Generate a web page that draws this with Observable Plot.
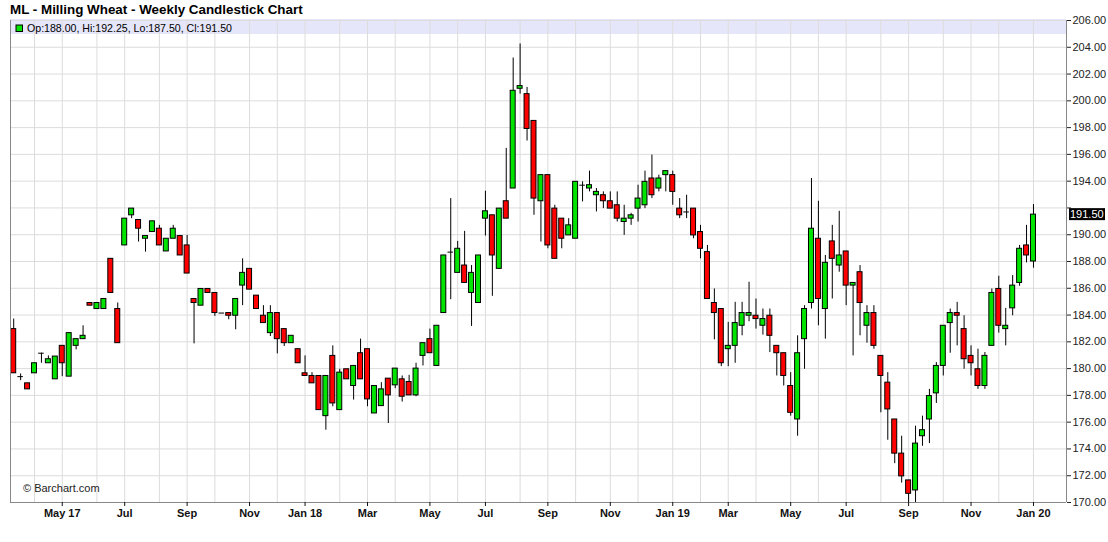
<!DOCTYPE html>
<html><head><meta charset="utf-8">
<script src="https://cdn.jsdelivr.net/npm/d3@7"></script>
<script src="https://cdn.jsdelivr.net/npm/@observablehq/plot@0.6"></script>
<style>
body{margin:0;background:#fff;font-family:Arial,"Liberation Sans",sans-serif}
#chart{position:relative;width:1108px;height:542px}
</style>
</head><body><div id="chart"></div>
<script>
// Weekly bars (week starting Monday), first bar week of 2017-03-13
const firstWeek = "2017-03-13";
const opens = [182.95,179.40,178.90,179.65,181.15,180.40,179.20,181.70,179.40,181.70,182.20,184.90,184.45,184.45,188.20,184.45,189.20,191.45,191.10,189.70,
190.20,190.45,188.75,189.70,189.90,189.20,185.20,184.70,185.95,185.65,184.15,184.15,183.95,186.20,187.45,185.45,183.95,182.65,184.15,182.95,
181.90,181.45,179.65,179.45,179.45,176.45,180.95,176.90,179.95,178.70,181.15,181.45,176.65,177.20,179.25,178.75,179.20,179.00,178.00,180.95,
182.20,180.20,184.15,188.70,187.15,187.70,185.65,184.90,191.20,191.45,187.45,192.50,193.45,200.90,200.50,198.50,192.50,194.45,191.95,191.20,
189.95,189.70,193.70,193.45,192.95,192.95,192.50,192.20,190.95,191.20,191.95,192.20,194.20,193.45,194.45,194.45,191.95,191.70,191.95,190.20,
188.70,184.90,184.45,181.45,181.70,183.20,183.95,183.95,183.20,183.95,181.70,181.15,178.70,176.20,182.20,184.90,189.70,184.45,189.50,187.70,
188.75,186.20,187.20,183.20,184.15,180.95,178.95,176.20,173.65,171.65,170.90,174.95,176.20,178.15,180.20,183.40,184.15,182.95,180.95,179.95,
178.70,181.70,185.95,182.95,184.50,186.40,189.20,188.00];
const highs = [183.70,179.60,178.90,180.40,181.15,180.95,180.90,181.70,182.65,182.20,183.20,184.90,184.90,185.20,188.20,184.90,191.20,191.95,191.10,189.90,
191.00,190.70,189.70,190.70,189.90,189.95,185.20,185.95,185.95,185.65,184.15,184.15,185.20,188.20,187.45,185.45,184.70,184.70,184.15,182.95,
182.45,181.45,180.95,179.70,179.45,179.45,181.70,179.95,179.95,180.20,182.20,181.45,178.70,178.95,179.25,180.00,179.45,179.50,180.40,181.90,
182.95,183.20,188.45,192.70,189.50,190.25,187.70,188.45,193.25,191.45,191.95,196.45,203.20,204.25,201.00,198.50,194.45,194.45,192.20,191.20,
191.20,193.95,193.95,194.75,193.45,193.20,193.20,193.20,192.20,191.60,193.70,194.75,195.95,194.45,194.75,194.75,192.70,192.95,191.95,190.70,
189.20,185.95,184.45,183.45,184.95,184.95,186.45,185.20,184.45,184.45,181.70,181.15,179.70,182.45,184.70,194.20,192.50,188.45,190.70,191.75,
188.75,186.40,187.70,184.70,184.70,180.95,179.70,176.20,174.95,171.65,175.70,176.45,178.45,180.45,183.20,184.45,184.95,183.95,181.70,181.45,
181.20,185.95,186.90,184.50,186.95,189.20,190.70,192.25];
const lows = [179.65,179.10,178.45,179.65,180.40,180.40,179.20,179.40,179.40,181.40,182.20,184.70,184.45,184.45,185.65,181.90,189.20,191.20,189.45,188.70,
190.20,189.20,188.75,189.70,188.45,187.10,181.85,184.70,185.65,183.90,184.15,183.65,182.90,184.70,185.90,184.45,183.40,182.40,181.10,181.65,
181.90,180.40,179.45,178.90,176.90,175.40,177.15,176.90,179.20,177.65,179.20,177.15,176.65,177.20,175.90,178.50,177.50,178.00,177.90,180.20,
181.15,180.20,184.15,185.15,187.15,186.40,183.15,184.90,189.90,185.40,187.45,191.20,193.45,200.50,197.00,191.45,189.45,188.95,188.20,188.95,
189.95,189.70,192.45,193.20,191.70,191.95,191.95,190.95,189.95,190.70,190.95,191.95,192.70,193.20,193.20,192.20,191.20,191.20,189.70,188.20,
185.20,182.15,180.15,180.15,180.40,182.45,183.50,182.95,182.50,181.20,179.45,178.70,176.45,174.95,179.95,184.45,183.20,182.20,185.20,187.20,
184.70,180.95,182.45,181.90,181.45,176.70,174.65,172.90,171.45,170.00,170.00,174.20,174.40,177.40,179.45,181.15,181.70,179.95,179.45,178.45,
178.45,181.70,182.65,181.70,183.95,186.15,187.90,187.50];
const closes = [179.65,179.40,178.45,180.40,181.15,180.70,180.90,180.40,182.65,182.20,182.45,184.70,184.90,185.20,185.65,181.90,191.20,191.95,190.45,189.90,
191.00,189.20,189.70,190.45,188.45,187.10,184.90,185.95,185.65,184.15,184.15,183.95,185.20,187.15,185.90,184.45,183.40,184.15,182.20,181.90,
182.45,180.40,179.45,178.90,176.90,179.45,177.40,179.70,179.20,180.20,179.20,177.70,178.70,178.45,178.00,180.00,177.90,178.00,180.00,181.90,
181.15,183.20,188.45,188.70,188.95,186.40,187.15,188.45,191.75,188.45,191.95,191.20,200.75,201.10,197.90,192.70,194.45,189.20,188.20,189.70,
190.70,193.95,193.70,193.70,193.20,192.50,191.95,191.20,191.20,191.45,192.70,193.95,192.95,194.20,194.75,193.20,191.45,191.70,189.95,188.95,
185.20,184.15,180.40,181.70,183.40,184.15,184.15,183.70,183.70,182.45,181.15,179.45,176.70,181.15,184.45,190.45,185.20,187.90,188.20,188.45,
186.20,186.40,184.90,184.15,181.70,179.45,176.95,173.65,171.95,170.65,174.40,175.40,177.95,180.20,183.20,184.15,183.95,180.70,180.40,178.70,
180.95,185.65,183.20,183.20,186.20,188.95,188.45,191.50];
const priceTicks = d3.range(170, 206.01, 2);
const titleText = "ML - Milling Wheat - Weekly Candlestick Chart";
const copyrightText = "© Barchart.com";

const UP = "#00e400", DOWN = "#ff0000";

const start = new Date(firstWeek + "T00:00:00Z");
const dates = d3.utcMonday.range(start, d3.utcMonday.offset(start, opens.length));
const bars = opens.map((o, i) => ({i, date: dates[i], open: o, high: highs[i], low: lows[i], close: closes[i]}));
const bodies = bars.filter(d => Math.abs(d.close - d.open) >= 0.1);
const dojis = bars.filter(d => Math.abs(d.close - d.open) < 0.1);

// first bar of each month -> gridlines; odd months (Jan, Mar, ...) labelled
const monthStarts = bars.filter((d, k) => k > 0 && d.date.getUTCMonth() !== bars[k - 1].date.getUTCMonth()).map(d => d.i);
const labelled = monthStarts.filter(i => dates[i].getUTCMonth() % 2 === 0);
const firstLabel = labelled[0];
const fmtX = i => (i === firstLabel || dates[i].getUTCMonth() === 0) ? d3.utcFormat("%b %y")(dates[i]) : d3.utcFormat("%b")(dates[i]);

const last = bars[bars.length - 1];
const xDomain = [-0.46, 151.76];

const chart = Plot.plot({
  width: 1108, height: 542,
  marginLeft: 10, marginRight: 42, marginTop: 20, marginBottom: 40,
  style: {fontFamily: "Arial, 'Liberation Sans', sans-serif", fontSize: "11px", color: "#111", background: "#fff"},
  x: {type: "linear", domain: xDomain, label: null},
  y: {domain: [170, 206], label: null},
  marks: [
    Plot.ruleY(priceTicks, {stroke: "#dcdcdc"}),
    Plot.ruleX(monthStarts, {stroke: "#dcdcdc"}),
    Plot.ruleX(bars, {x: "i", y1: "low", y2: "high", stroke: "#000", strokeWidth: 1}),
    Plot.rect(bodies, {x1: d => d.i - 0.36, x2: d => d.i + 0.36, y1: "open", y2: "close",
      fill: d => d.close > d.open ? UP : DOWN, stroke: "#000", strokeWidth: 1}),
    Plot.ruleY(dojis, {y: "open", x1: d => d.i - 0.4, x2: d => d.i + 0.4, stroke: "#000", strokeWidth: 1}),
    Plot.ruleX([xDomain[0]], {stroke: "#888"}),
    Plot.ruleX([xDomain[1]], {stroke: "#888"}),
    Plot.ruleY([170], {stroke: "#888"}),
    Plot.axisY({anchor: "right", ticks: priceTicks, tickSize: 4, tickPadding: 2, label: null,
      tickFormat: v => Math.abs(v - last.close) < 0.8 ? "" : v.toFixed(2), fontSize: 11, color: "#222"}),
    Plot.axisX({ticks: labelled, tickFormat: fmtX, tickSize: 4, tickPadding: 3, label: null,
      fontSize: 11, fontWeight: "bold", color: "#111"})
  ]
});

document.getElementById("chart").appendChild(chart);

// Decorations: title, OHLC legend band, last price tag, copyright
const svg = d3.select(chart);
const xs = chart.scale("x"), ys = chart.scale("y");
const left = xs.apply(xDomain[0]), right = xs.apply(xDomain[1]);
svg.insert("rect", ":first-child").attr("x", left).attr("y", 19).attr("width", right - left).attr("height", 15).attr("fill", "#e6e6fa");
const txt = () => svg.append("text").attr("text-anchor", "start");
txt().attr("x", 10).attr("y", 13.5).attr("font-size", 13.4).attr("font-weight", "bold").attr("fill", "#000").text(titleText);
svg.append("rect").attr("x", 16).attr("y", 25).attr("width", 6.5).attr("height", 6.5)
  .attr("fill", last.close >= last.open ? UP : DOWN).attr("stroke", "#000");
txt().attr("x", 27).attr("y", 32).attr("font-size", 10.6).attr("fill", "#000")
  .text(`Op:${last.open.toFixed(2)}, Hi:${last.high.toFixed(2)}, Lo:${last.low.toFixed(2)}, Cl:${last.close.toFixed(2)}`);
const ly = ys.apply(last.close);
svg.append("rect").attr("x", right + 3).attr("y", ly - 6).attr("width", 36).attr("height", 12).attr("fill", "#000");
txt().attr("x", right + 4).attr("y", ly + 4).attr("font-size", 11).attr("fill", "#fff").text(last.close.toFixed(2));
txt().attr("x", 23).attr("y", 492).attr("font-size", 11).attr("fill", "#222").text(copyrightText);
</script>
</body></html>
